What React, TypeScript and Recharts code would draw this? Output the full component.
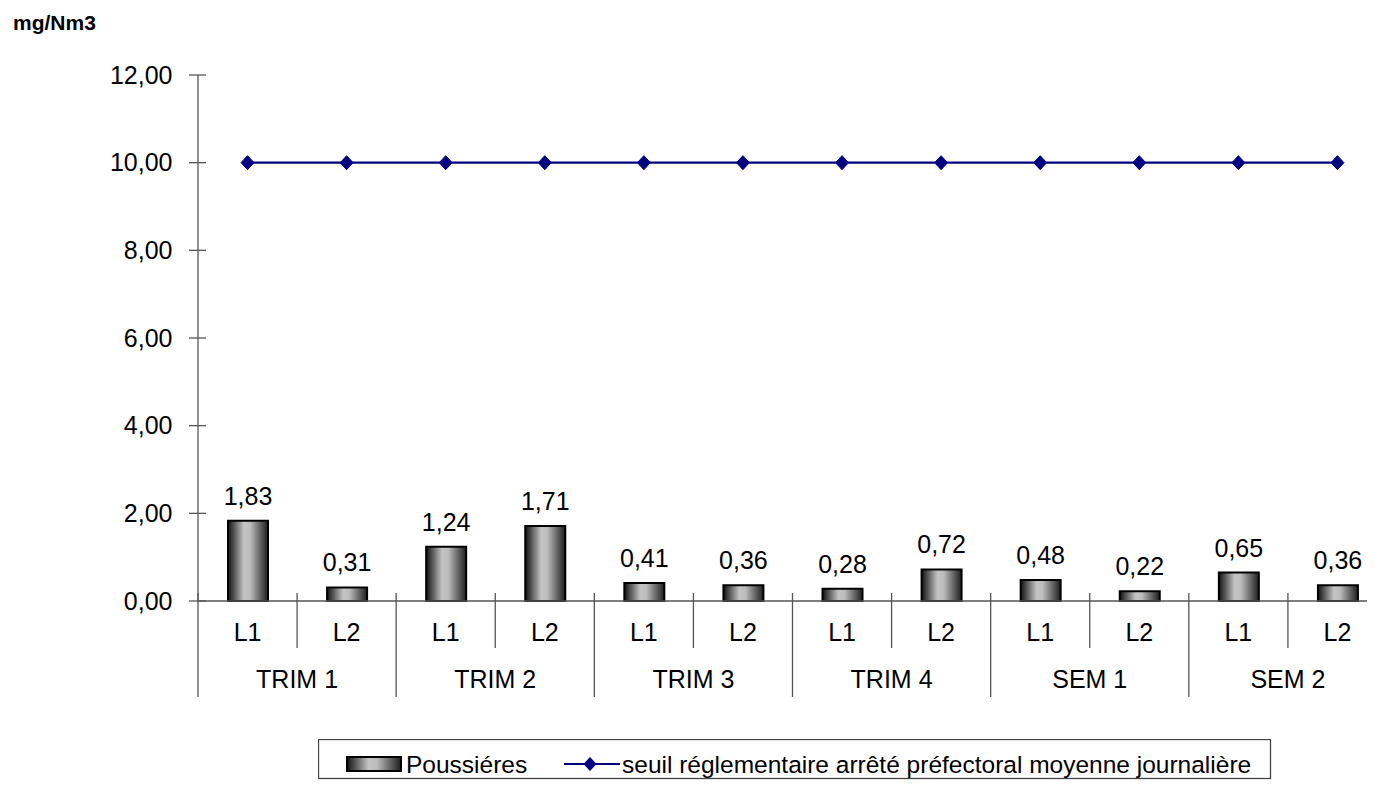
import React from 'react';
import { ComposedChart, Bar, Line, XAxis, YAxis, LabelList } from 'recharts';

const groups = ['TRIM 1', 'TRIM 2', 'TRIM 3', 'TRIM 4', 'SEM 1', 'SEM 2'];
const lines = ['L1', 'L2'];
const poussieres = [1.83, 0.31, 1.24, 1.71, 0.41, 0.36, 0.28, 0.72, 0.48, 0.22, 0.65, 0.36];
const seuil = [10, 10, 10, 10, 10, 10, 10, 10, 10, 10, 10, 10];
const yTicks = [0, 2, 4, 6, 8, 10, 12];

const data = poussieres.map((v, i) => ({
  cat: groups[Math.floor(i / 2)] + '|' + lines[i % 2],
  poussieres: v,
  seuil: seuil[i],
}));

const FONT = 'Arial, "Liberation Sans", Helvetica, sans-serif';
const AXIS = '#555';
const NAVY = '#000080';
const FS = 25;

const fmt = (v: number) => v.toFixed(2).replace('.', ',');

const XTick = (props: any) => {
  const { x, y, payload, index } = props;
  const half = payload && payload.offset ? payload.offset : 49.55;
  const i = typeof index === 'number' ? index : payload.index;
  const [grp, ln] = String(payload.value).split('|');
  const isL2 = i % 2 === 1;
  return (
    <g>
      <text x={x} y={y + 40} textAnchor="middle" fontSize={FS} fontFamily={FONT} fill="#000">
        {ln}
      </text>
      <line x1={x - half} y1={y - 8} x2={x - half} y2={y + (isL2 ? 47 : 96)} stroke={AXIS} strokeWidth={1.3} />
      {isL2 && (
        <text x={x - half} y={y + 87} textAnchor="middle" fontSize={FS} fontFamily={FONT} fill="#000">
          {grp}
        </text>
      )}
      {i === data.length - 1 && (
        <line x1={x + half} y1={y - 8} x2={x + half} y2={y + 96} stroke={AXIS} strokeWidth={1.3} />
      )}
    </g>
  );
};

const YTick = (props: any) => {
  const { x, y, payload } = props;
  return (
    <g>
      <line x1={x - 9} y1={y} x2={x + 8} y2={y} stroke={AXIS} strokeWidth={1.3} />
      <text x={x - 25.5} y={y + 8.8} textAnchor="end" fontSize={FS} fontFamily={FONT} fill="#000">
        {fmt(payload.value)}
      </text>
    </g>
  );
};

const Diamond = (props: any) => {
  const { cx, cy } = props;
  if (cx == null || cy == null) return null;
  return (
    <polygon
      points={`${cx},${cy - 7} ${cx + 6.5},${cy} ${cx},${cy + 7} ${cx - 6.5},${cy}`}
      fill={NAVY}
      stroke={NAVY}
    />
  );
};

const BarLabel = (props: any) => {
  const { x, y, width, value } = props;
  return (
    <text x={x + width / 2} y={y - 16} textAnchor="middle" fontSize={FS} fontFamily={FONT} fill="#000">
      {fmt(Number(value))}
    </text>
  );
};

export default function App() {
  return (
    <div style={{ position: 'relative', width: 1367, height: 786, overflow: 'hidden' }}>
      <ComposedChart
        width={1400}
        height={786}
        data={data}
        margin={{ top: 67, right: 21, bottom: 83, left: 0 }}
      >
        <defs>
          <linearGradient id="barGrad" x1="0" y1="0" x2="1" y2="0">
            <stop offset="0%" stopColor="#111" />
            <stop offset="40%" stopColor="#c4c4c4" />
            <stop offset="55%" stopColor="#bdbdbd" />
            <stop offset="100%" stopColor="#1e1e1e" />
          </linearGradient>
        </defs>
        <XAxis
          dataKey="cat"
          tick={<XTick />}
          tickLine={false}
          tickSize={0}
          tickMargin={0}
          height={110}
          interval={0}
          axisLine={{ stroke: AXIS, strokeWidth: 1.3 }}
        />
        <YAxis
          domain={[0, 12]}
          ticks={yTicks}
          width={190}
          tick={<YTick />}
          tickLine={false}
          tickSize={0}
          tickMargin={0}
          axisLine={{ stroke: AXIS, strokeWidth: 1.3 }}
        />
        <Bar
          dataKey="poussieres"
          barSize={40}
          fill="url(#barGrad)"
          stroke="#000"
          strokeWidth={2}
          isAnimationActive={false}
        >
          <LabelList dataKey="poussieres" content={<BarLabel />} />
        </Bar>
        <Line
          dataKey="seuil"
          stroke={NAVY}
          strokeWidth={2.2}
          dot={<Diamond />}
          activeDot={false}
          isAnimationActive={false}
        />
      </ComposedChart>

      <svg style={{ position: 'absolute', left: 0, top: 0 }} width={200} height={40}>
        <text x={5} y={21.5} fontSize={21} fontWeight="bold" fontFamily={FONT} fill="#000">
          mg/Nm3
        </text>
      </svg>

      <svg style={{ position: 'absolute', left: 310, top: 731 }} width={954} height={41}>
        <defs>
          <linearGradient id="legGrad" x1="0" y1="0" x2="1" y2="0">
            <stop offset="0%" stopColor="#111" />
            <stop offset="40%" stopColor="#c4c4c4" />
            <stop offset="55%" stopColor="#bdbdbd" />
            <stop offset="100%" stopColor="#1e1e1e" />
          </linearGradient>
        </defs>
        <rect x={0.5} y={0.5} width={952} height={39} fill="#fff" stroke="#444" strokeWidth={1.3} />
        <rect x={29} y={18} width={54} height={14} fill="url(#legGrad)" stroke="#000" strokeWidth={2} />
        <text x={88} y={33.5} fontSize={24.5} fontFamily={FONT} fill="#000">
          Poussiéres
        </text>
        <line x1={246} y1={25} x2={302} y2={25} stroke={NAVY} strokeWidth={2.2} />
        <polygon points="272,18 278.5,25 272,32 265.5,25" fill={NAVY} />
        <text x={304} y={33.5} fontSize={24.5} fontFamily={FONT} fill="#000">
          seuil réglementaire arrêté préfectoral moyenne journalière
        </text>
      </svg>
    </div>
  );
}
